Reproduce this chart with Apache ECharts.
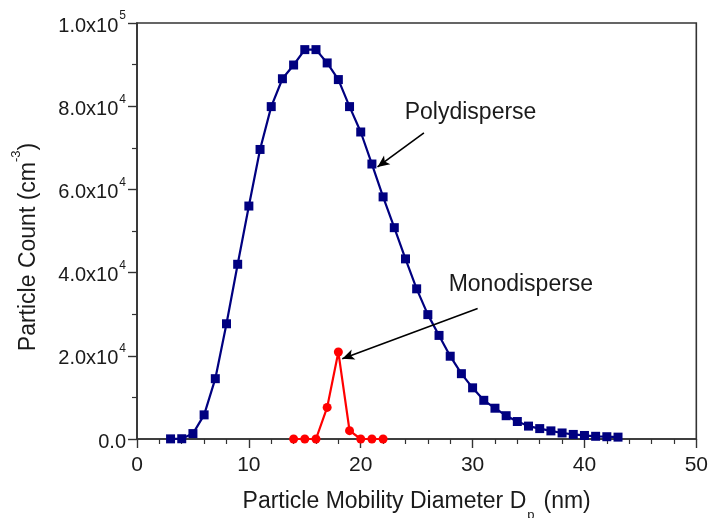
<!DOCTYPE html>
<html>
<head>
<meta charset="utf-8">
<title>Particle size distribution</title>
<script src="https://cdn.jsdelivr.net/npm/echarts@6/dist/echarts.min.js"></script>
<style>
  html, body { margin: 0; padding: 0; background: #fff; }
  #chart { width: 711px; height: 518px; }
</style>
</head>
<body>
<div id="chart"></div>
<script>
// Mobility diameter (nm) and number concentration (cm^-3)
const diameterPoly = [3, 4, 5, 6, 7, 8, 9, 10, 11, 12, 13, 14, 15, 16, 17, 18, 19, 20, 21, 22,
  23, 24, 25, 26, 27, 28, 29, 30, 31, 32, 33, 34, 35, 36, 37, 38, 39, 40, 41, 42, 43];
const countPoly = [30, 60, 1300, 5800, 14500, 27700, 42000, 56000, 69600, 79900, 86600, 89900,
  93600, 93600, 90400, 86400, 79900, 73800, 66100, 58200, 50800, 43300, 36100, 29900, 24900,
  19900, 15700, 12300, 9300, 7400, 5600, 4200, 3100, 2500, 1950, 1450, 1100, 850, 650, 550, 450];

const diameterMono = [14, 15, 16, 17, 18, 19, 20, 21, 22];
const countMono = [0, 0, 0, 7600, 20900, 2000, 0, 0, 0];

const seriesNames = ['Polydisperse', 'Monodisperse'];

const FONT = "'Liberation Sans', Arial, Helvetica, sans-serif";
const INK = '#1a1a1a';

function pairs(xs, ys) {
  return xs.map((x, i) => [x, ys[i]]);
}

// "2.0x10^4" style labels with a raised exponent
function sciLabel(v) {
  if (v === 0) return '{b|0.0}';
  const e = Math.floor(Math.log10(v) + 1e-9);
  const m = v / Math.pow(10, e);
  return '{b|' + m.toFixed(1) + 'x10}{s|' + e + '}';
}

const chart = echarts.init(document.getElementById('chart'), null, { renderer: 'canvas' });

const option = {
  animation: false,
  backgroundColor: '#fff',
  textStyle: { fontFamily: FONT, color: INK },
  grid: {
    left: 137, right: 14, top: 23, bottom: 79,
    show: true, borderColor: '#333', borderWidth: 1.6, backgroundColor: 'transparent'
  },
  xAxis: {
    type: 'value', min: 0, max: 50, interval: 10,
    axisLine: { show: true, lineStyle: { color: '#333', width: 1.6 } },
    axisTick: { show: true, inside: false, length: 9, lineStyle: { color: '#333', width: 1.4 } },
    minorTick: { show: true, splitNumber: 5, length: 5, lineStyle: { color: '#333', width: 1.2 } },
    splitLine: { show: false },
    axisLabel: { color: INK, fontFamily: FONT, fontSize: 21, margin: 16 }
  },
  yAxis: {
    type: 'value', min: 0, max: 100000, interval: 20000,
    axisLine: { show: true, lineStyle: { color: '#333', width: 1.6 } },
    axisTick: { show: true, inside: false, length: 9, lineStyle: { color: '#333', width: 1.4 } },
    minorTick: { show: true, splitNumber: 2, length: 5, lineStyle: { color: '#333', width: 1.2 } },
    splitLine: { show: false },
    axisLabel: {
      margin: 11,
      formatter: sciLabel,
      rich: {
        b: { fontFamily: FONT, fontSize: 20, color: INK, lineHeight: 26, verticalAlign: 'bottom' },
        s: { fontFamily: FONT, fontSize: 12, color: INK, lineHeight: 26, verticalAlign: 'top', padding: [0, 0, 0, 1] }
      }
    }
  },
  series: [
    {
      name: seriesNames[0],
      type: 'line',
      data: pairs(diameterPoly, countPoly),
      symbol: 'rect',
      symbolSize: 9,
      showAllSymbol: true,
      lineStyle: { color: '#000080', width: 2.2 },
      itemStyle: { color: '#000080' },
      z: 3,
      markLine: {
        silent: true,
        symbol: ['none', 'arrow'],
        symbolSize: [8, 12],
        lineStyle: { color: '#000', width: 1.6, type: 'solid' },
        label: { show: false },
        data: [[{ coord: [25.65, 73600] }, { coord: [21.5, 65400] }]]
      }
    },
    {
      name: seriesNames[1],
      type: 'line',
      data: pairs(diameterMono, countMono),
      symbol: 'circle',
      symbolSize: 9,
      showAllSymbol: true,
      lineStyle: { color: '#ff0000', width: 2.2 },
      itemStyle: { color: '#ff0000' },
      z: 4,
      markLine: {
        silent: true,
        symbol: ['none', 'arrow'],
        symbolSize: [8, 12],
        lineStyle: { color: '#000', width: 1.6, type: 'solid' },
        label: { show: false },
        data: [[{ coord: [30.45, 31400] }, { coord: [18.35, 19300] }]]
      }
    }
  ]
};

chart.setOption(option);

// Axis titles and series callouts, anchored to data positions
const polyAt = chart.convertToPixel({ gridIndex: 0 }, [23.93, 75600]);
const monoAt = chart.convertToPixel({ gridIndex: 0 }, [27.86, 34300]);
const plotMid = chart.convertToPixel({ gridIndex: 0 }, [25, 50000]);

chart.setOption({
  graphic: [
    {
      type: 'text', x: plotMid[0], y: 490,
      style: {
        text: '{t|Particle Mobility Diameter D}{u|p}{t|(nm)}',
        align: 'center', verticalAlign: 'top',
        rich: {
          t: { fontFamily: FONT, fontSize: 23, fill: INK, lineHeight: 32, verticalAlign: 'top' },
          u: { fontFamily: FONT, fontSize: 13, fill: INK, lineHeight: 32, verticalAlign: 'bottom', padding: [0, 9, 0, 1] }
        }
      }
    },
    {
      type: 'text', x: 10, y: 247, rotation: Math.PI / 2,
      style: {
        text: '{t|Particle Count (cm}{s|-3}{t|)}',
        align: 'center', verticalAlign: 'top',
        rich: {
          t: { fontFamily: FONT, fontSize: 23, fill: INK, lineHeight: 30, verticalAlign: 'bottom' },
          s: { fontFamily: FONT, fontSize: 13, fill: INK, lineHeight: 30, verticalAlign: 'top' }
        }
      }
    },
    {
      type: 'text', x: polyAt[0], y: polyAt[1],
      style: { text: seriesNames[0], fontFamily: FONT, fontSize: 23, fill: INK, verticalAlign: 'bottom' }
    },
    {
      type: 'text', x: monoAt[0], y: monoAt[1],
      style: { text: seriesNames[1], fontFamily: FONT, fontSize: 23, fill: INK, verticalAlign: 'bottom' }
    }
  ]
});
</script>
</body>
</html>
